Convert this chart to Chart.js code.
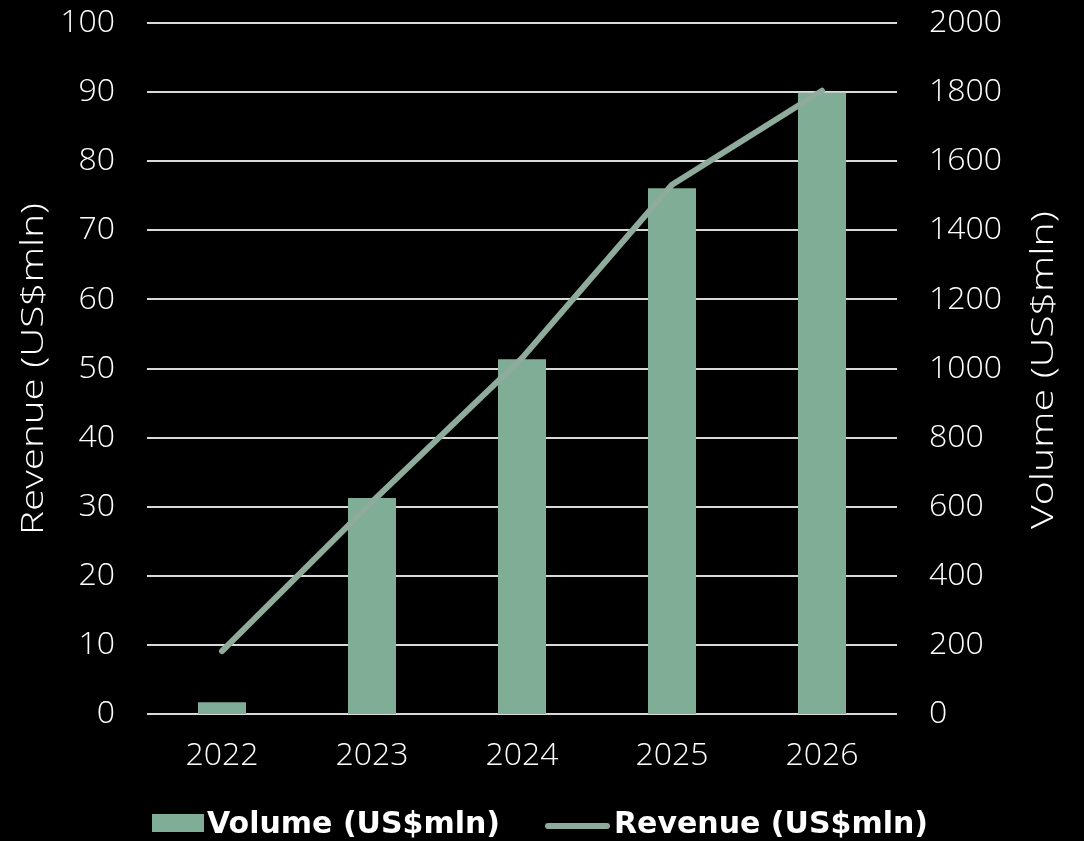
<!DOCTYPE html>
<html>
<head>
<meta charset="utf-8">
<script src="https://cdn.jsdelivr.net/npm/chart.js@4"></script>
<style>
  html, body { margin: 0; padding: 0; background: #000; }
  #wrap { width: 1084px; height: 841px; }
</style>
</head>
<body>
<div id="wrap"><canvas id="c" width="1084" height="841"></canvas></div>
<script>
const categories = ['2022', '2023', '2024', '2025', '2026'];
const volumeValues = [34, 625, 1027, 1522, 1798];       // bars, right axis (US$mln)
const revenueValues = [9.1, 30.7, 51.5, 76.6, 90.2];    // line, left axis (US$mln)
const leftTicks = [0, 10, 20, 30, 40, 50, 60, 70, 80, 90, 100];
const rightTicks = [0, 200, 400, 600, 800, 1000, 1200, 1400, 1600, 1800, 2000];
const leftTitle = 'Revenue (US$mln)';
const rightTitle = 'Volume (US$mln)';

const barColor = '#7fad96';
const lineColor = '#8eab9c';
const textColor = '#ffffff';
const gridColor = '#d9d9d9';
const FONT = "'Open Sans', 'Noto Sans', sans-serif";
const LEGEND_FONT = "bold 30px 'DejaVu Sans', 'Open Sans', sans-serif";

// draws rotated axis titles (reading bottom-to-top on both sides) and the legend
const decorPlugin = {
  id: 'decor',
  afterDraw(chart) {
    const ctx = chart.ctx;
    const area = chart.chartArea;
    const midY = (area.top + area.bottom) / 2;

    function vTitle(text, baselineX, centerY, targetLen) {
      ctx.save();
      ctx.font = "300 31px 'Open Sans', sans-serif";
      ctx.fillStyle = textColor;
      ctx.textAlign = 'center';
      ctx.textBaseline = 'alphabetic';
      ctx.translate(baselineX, centerY);
      ctx.rotate(-Math.PI / 2);
      const w = ctx.measureText(text).width;
      if (w > 0) ctx.scale(targetLen / w, 1);
      ctx.fillText(text, 0, 0);
      ctx.restore();
    }
    vTitle(leftTitle, 43, midY + 0.5, 332);
    vTitle(rightTitle, 1053, midY + 1.5, 318);

    // legend
    const ds = chart.data.datasets;
    ctx.save();
    ctx.font = LEGEND_FONT;
    ctx.fillStyle = ds[0].backgroundColor;
    ctx.fillRect(152, 814, 52, 18);
    ctx.strokeStyle = ds[1].borderColor;
    ctx.lineWidth = 6;
    ctx.lineCap = 'round';
    ctx.beginPath();
    ctx.moveTo(548, 826);
    ctx.lineTo(607, 826);
    ctx.stroke();
    ctx.fillStyle = textColor;
    ctx.textBaseline = 'alphabetic';
    ctx.textAlign = 'left';
    ctx.fillText(ds[0].label, 207, 833);
    ctx.fillText(ds[1].label, 614, 833);
    ctx.restore();
  }
};

new Chart(document.getElementById('c'), {
  data: {
    labels: categories,
    datasets: [
      {
        type: 'bar',
        label: 'Volume (US$mln)',
        data: volumeValues,
        yAxisID: 'y1',
        backgroundColor: barColor,
        borderWidth: 0,
        categoryPercentage: 1,
        barPercentage: 0.32,
        order: 1
      },
      {
        type: 'line',
        label: 'Revenue (US$mln)',
        data: revenueValues,
        yAxisID: 'y',
        borderColor: lineColor,
        backgroundColor: lineColor,
        borderWidth: 6,
        borderCapStyle: 'round',
        borderJoinStyle: 'round',
        pointRadius: 0,
        tension: 0,
        order: 0
      }
    ]
  },
  plugins: [decorPlugin],
  options: {
    responsive: false,
    animation: false,
    devicePixelRatio: 1,
    layout: { padding: { top: 23, bottom: 0, left: 0, right: 0 } },
    plugins: {
      tooltip: { enabled: false },
      legend: { display: false }
    },
    scales: {
      x: {
        grid: { display: false, drawTicks: false },
        border: { display: false },
        ticks: { color: textColor, padding: 23, font: { family: FONT, size: 32, weight: 300 } },
        afterFit: (s) => { s.height = 127; s.paddingLeft = 0; s.paddingRight = 0; }
      },
      y: {
        position: 'left',
        min: 0, max: 100,
        afterBuildTicks: (s) => { s.ticks = leftTicks.map(v => ({ value: v })); },
        grid: { color: gridColor, lineWidth: 2, drawTicks: false },
        border: { display: false },
        ticks: { color: textColor, padding: 32, font: { family: FONT, size: 32, weight: 300 }, callback: (v) => String(v) },
        afterFit: (s) => { s.width = 147; s.paddingTop = 0; s.paddingBottom = 0; }
      },
      y1: {
        position: 'right',
        min: 0, max: 2000,
        afterBuildTicks: (s) => { s.ticks = rightTicks.map(v => ({ value: v })); },
        grid: { display: false, drawTicks: false },
        border: { display: false },
        ticks: { color: textColor, padding: 32, font: { family: FONT, size: 32, weight: 300 }, callback: (v) => String(v) },
        afterFit: (s) => { s.width = 187; s.paddingTop = 0; s.paddingBottom = 0; }
      }
    }
  }
});
</script>
</body>
</html>
